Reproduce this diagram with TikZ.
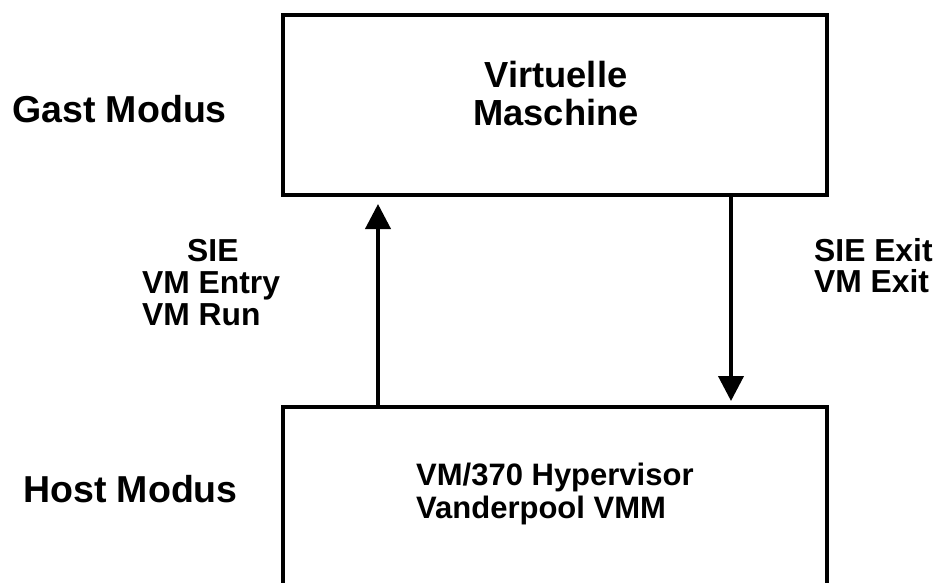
\documentclass[tikz,border=0pt]{standalone}
\usepackage{fontspec}
\setmainfont{Liberation Sans}
\usetikzlibrary{arrows.meta}
\begin{document}
\begin{tikzpicture}[x=1pt,y=-1pt,
  box/.style={draw, line width=4pt, rectangle, inner sep=0pt, outer sep=0pt},
  big/.style={font=\bfseries\fontsize{37.5}{40}\selectfont, inner sep=0pt, anchor=base west},
  mid/.style={font=\bfseries\fontsize{36.3}{38}\selectfont, inner sep=0pt, align=center, anchor=base},
  small/.style={font=\bfseries\fontsize{31.8}{32}\selectfont, inner sep=0pt, align=left, anchor=base west},
  conn/.style={line width=4pt, -{Triangle[length=25pt,width=25pt]}}]
\useasboundingbox (0,0) rectangle (941,582);
\clip (0,0) rectangle (941,582);
\fill[white] (0,0) rectangle (941,582);
\node[box, minimum width=543.5pt, minimum height=180pt] (top) at (554.75,105) {};
\node[box, minimum width=543.5pt, minimum height=223pt] (bot) at (554.75,518.5) {};
\node[mid] (vm) at (556,125) {Virtuelle\\Maschine};
\node[small, font=\bfseries\fontsize{31}{33}\selectfont] (hv) at (416,518) {VM/370 Hypervisor\\Vanderpool VMM};
\node[big] (gast) at (12,122) {Gast Modus};
\node[big] (host) at (23,502) {Host Modus};
\node[small] (entry) at (142,325) {\hspace*{45pt}SIE\\VM Entry\\VM Run};
\node[small, font=\bfseries\fontsize{31.8}{31}\selectfont] (exit) at (814,292) {SIE Exit\\VM Exit};
\draw[conn, shorten >=9pt] ([xshift=95pt]bot.north west) -- ([xshift=95pt]top.south west);
\draw[conn, shorten >=6pt] ([xshift=-95.5pt]top.south east) -- ([xshift=-95.5pt]bot.north east);
\end{tikzpicture}
\end{document}
